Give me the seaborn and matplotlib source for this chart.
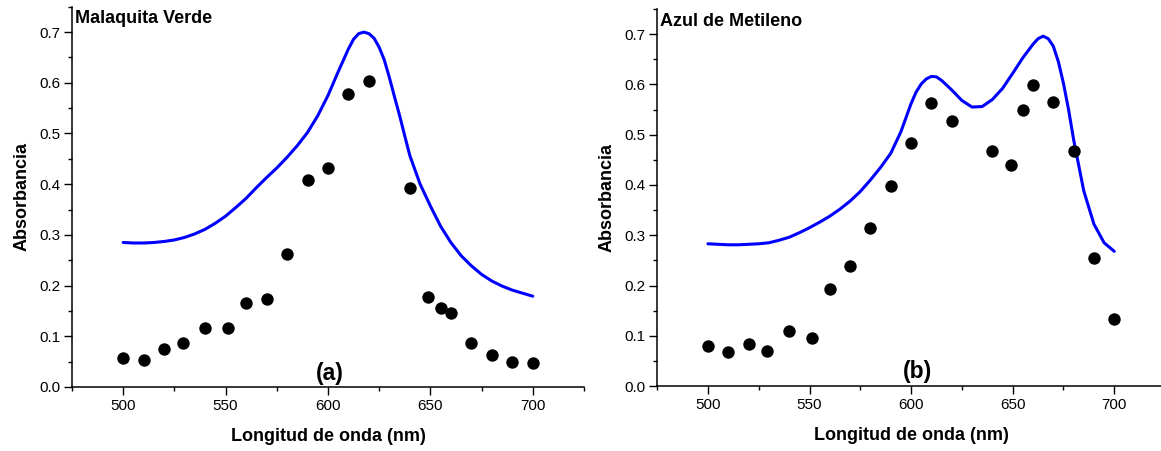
import matplotlib
matplotlib.use("Agg")
import matplotlib.pyplot as plt
from matplotlib.ticker import MultipleLocator
import seaborn as sns
import pandas as pd

# ---- data: Malaquita Verde (a) ----
mv_pts_x = [500, 510, 520, 529, 540, 551, 560, 570, 580, 590, 600, 610, 620,
            640, 649, 655, 660, 670, 680, 690, 700]
mv_pts_y = [0.058, 0.054, 0.075, 0.086, 0.117, 0.117, 0.165, 0.174, 0.262, 0.409,
            0.432, 0.577, 0.603, 0.393, 0.177, 0.156, 0.146, 0.087, 0.063, 0.050, 0.048]
mv_curve_x = [500, 505, 510, 515, 520, 525, 530, 535, 540, 545, 550, 555, 560, 565,
              570, 575, 580, 585, 590, 595, 600, 605, 610, 612.5, 615, 617.5, 620,
              622.5, 625, 627.5, 630, 632.5, 635, 637.5, 640, 645, 650, 655, 660, 665,
              670, 675, 680, 685, 690, 695, 700]
mv_curve_y = [0.285, 0.284, 0.284, 0.285, 0.287, 0.290, 0.295, 0.302, 0.311, 0.323,
              0.337, 0.354, 0.372, 0.393, 0.413, 0.432, 0.453, 0.476, 0.502, 0.535,
              0.575, 0.622, 0.667, 0.686, 0.697, 0.700, 0.697, 0.688, 0.670, 0.645,
              0.610, 0.572, 0.535, 0.495, 0.456, 0.400, 0.357, 0.317, 0.285, 0.259,
              0.239, 0.222, 0.209, 0.199, 0.191, 0.185, 0.179]

# ---- data: Azul de Metileno (b) ----
am_pts_x = [500, 510, 520, 529, 540, 551, 560, 570, 580, 590, 600, 610, 620,
            640, 649, 655, 660, 670, 680, 690, 700]
am_pts_y = [0.079, 0.068, 0.084, 0.069, 0.109, 0.095, 0.193, 0.238, 0.315, 0.397,
            0.483, 0.564, 0.528, 0.468, 0.440, 0.550, 0.599, 0.565, 0.468, 0.255, 0.133]
am_curve_x = [500, 505, 510, 515, 520, 525, 530, 535, 540, 545, 550, 555, 560, 565,
              570, 575, 580, 585, 590, 595, 600, 602.5, 605, 607.5, 610, 612.5, 615,
              620, 625, 630, 635, 640, 645, 650, 655, 660, 662.5, 665, 667.5, 670,
              672.5, 675, 677.5, 680, 685, 690, 695, 700]
am_curve_y = [0.283, 0.282, 0.281, 0.281, 0.282, 0.283, 0.285, 0.290, 0.296, 0.305,
              0.315, 0.326, 0.338, 0.352, 0.368, 0.387, 0.410, 0.435, 0.463, 0.506,
              0.562, 0.585, 0.601, 0.611, 0.616, 0.615, 0.608, 0.589, 0.568, 0.555,
              0.556, 0.570, 0.592, 0.622, 0.653, 0.680, 0.691, 0.696, 0.691, 0.676,
              0.645, 0.602, 0.550, 0.490, 0.388, 0.322, 0.285, 0.268]

titles = ["Malaquita Verde", "Azul de Metileno"]
panel_labels = ["(a)", "(b)"]
xlabel = "Longitud de onda (nm)"
ylabel = "Absorbancia"

sns.set_style("ticks")
plt.rcParams["font.family"] = ["Liberation Sans", "DejaVu Sans"]
plt.rcParams["text.color"] = "black"
plt.rcParams["axes.labelcolor"] = "black"

fig = plt.figure(figsize=(11.61, 4.51), dpi=100)
axes = [fig.add_axes([0.062, 0.142, 0.441, 0.843]),
        fig.add_axes([0.566, 0.144, 0.4375, 0.836])]

panels = [
    (mv_pts_x, mv_pts_y, mv_curve_x, mv_curve_y, (601, 0.026)),
    (am_pts_x, am_pts_y, am_curve_x, am_curve_y, (603, 0.028)),
]

for i, (ax, (px, py, cx, cy, lab_pos)) in enumerate(zip(axes, panels)):
    curve = pd.DataFrame({"x": cx, "y": cy})
    pts = pd.DataFrame({"x": px, "y": py})
    sns.lineplot(data=curve, x="x", y="y", ax=ax, color="#0000ff", linewidth=2.2,
                 sort=False)
    sns.scatterplot(data=pts, x="x", y="y", ax=ax, color="black", s=80,
                    edgecolor="black", linewidth=0, zorder=3)
    ax.set_xlim(475, 725)
    ax.set_ylim(0, 0.75)
    ax.xaxis.set_major_locator(MultipleLocator(50))
    ax.xaxis.set_minor_locator(MultipleLocator(25))
    ax.yaxis.set_major_locator(MultipleLocator(0.1))
    ax.yaxis.set_minor_locator(MultipleLocator(0.05))
    ax.yaxis.set_major_formatter(plt.FuncFormatter(lambda v, p: f"{v:.1f}"))
    for s in ["top", "right"]:
        ax.spines[s].set_visible(False)
    for s in ["left", "bottom"]:
        ax.spines[s].set_linewidth(1.1)
        ax.spines[s].set_color("black")
    ax.tick_params(which="major", direction="out", length=5.5, width=1.0,
                   labelsize=11, colors="black", pad=3)
    ax.tick_params(which="minor", direction="out", length=3, width=1.0,
                   colors="black")
    ax.set_xlabel(xlabel, fontsize=13, fontweight="bold", labelpad=11)
    ax.set_ylabel(ylabel, fontsize=13, fontweight="bold", labelpad=6)
    ax.text(0.006, 0.968, titles[i], transform=ax.transAxes, fontsize=13,
            fontweight="bold", ha="left", va="center")
    ax.text(lab_pos[0], lab_pos[1], panel_labels[i], fontsize=16.5,
            fontweight="bold", ha="center", va="center")
    ax.grid(False)

fig.savefig("out.png", dpi=100)
